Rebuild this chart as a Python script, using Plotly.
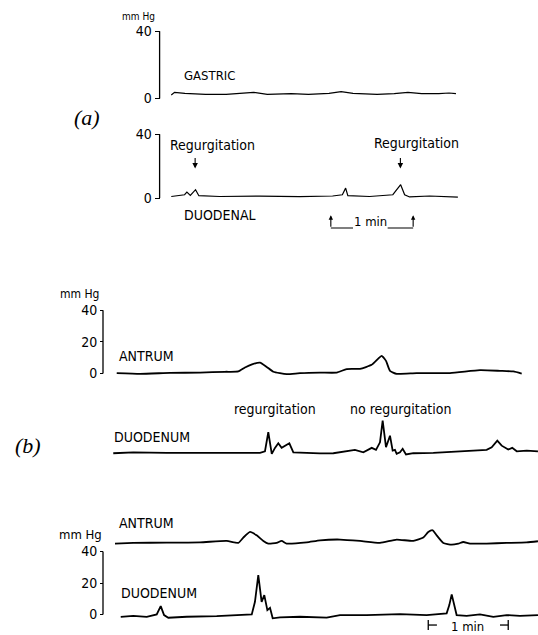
import plotly.graph_objects as go

W, H = 538, 635

# ---------------- data: time (s) and pressure (mmHg) ----------------
# Panel (a)
gastric_t = [8.5, 10.9, 18.4, 33.5, 48.5, 58.5, 68.5, 78.5, 96, 108.5, 123.5, 132.3,
             141, 158.5, 171, 181, 191, 203.5, 211, 216]
gastric_p = [2.0, 3.6, 3.0, 2.4, 2.4, 2.8, 3.6, 2.4, 2.8, 2.4, 3.0, 4.0,
             3.0, 2.4, 2.8, 3.6, 2.8, 2.8, 3.2, 2.8]

duodenal_t = [8.5, 18.2, 19.9, 22.4, 26.2, 28.6, 43.7, 72.9, 102, 126.1, 133.2, 135.6,
              137.2, 153, 170, 175.7, 178.6, 182.2, 196.8, 209, 217.4]
duodenal_p = [1.0, 2.1, 3.75, 1.7, 5.25, 1.5, 1.0, 1.2, 0.9, 1.3, 2.1, 6.25,
              1.5, 1.0, 2.1, 8.4, 2.1, 0.7, 1.3, 1.0, 0.6]

# Panel (b), upper pair
antrum1_t = [10.3, 27.8, 50.3, 72.8, 91.5, 101.5, 106.5, 111.8, 117.8, 122.8, 127.8, 137.8,
             147.8, 162.8, 175.3, 182.8, 192.8, 201.5, 206.3, 209, 212.3, 215.3, 220.3,
             235.3, 260.3, 282.8, 297.8, 307.8, 314.1]
antrum1_p = [0.25, -0.2, 0.4, 0.6, 1.1, 1.3, 3.8, 5.8, 6.9, 4.2, 1.1, -0.4,
             0.25, 0.6, 0.6, 2.8, 3.0, 5.5, 9.3, 11.2, 8.0, 1.7, -0.2,
             0.25, 0.25, 2.1, 1.7, 1.3, 0.0]

duodenum1_t = [7.7, 22.7, 47.8, 72.8, 97.7, 117.8, 121.5, 124, 126.6, 129, 131.5, 134,
               137.3, 139.8, 142.8, 152.8, 162.8, 172.8, 180.3, 189, 195.3, 201.6, 204.8,
               207.8, 209.8, 212.3, 215.3, 217.3, 219, 220.3, 222.8, 224.8, 227.3, 232.8,
               247.8, 267.8, 287.8, 291.6, 295.8, 299.1, 304, 307, 310.4, 317.9, 326.3]
duodenum1_p = [-0.1, 0.5, 0.1, 0.3, 0.1, 0.1, 1.1, 13.2, -0.5, 3.3, 6.2, 3.3,
               4.7, 6.2, 0.5, 0.1, -0.2, -0.1, 0.8, 2.0, 0.5, 3.3, 2.0,
               6.8, 20.5, 3.7, 11.0, 1.6, 2.0, -0.5, 0.5, 2.7, -0.9, -0.1,
               0.1, 1.1, 2.0, 3.7, 7.9, 4.7, 2.2, 3.3, 1.1, 1.6, 1.1]

# Panel (b), lower pair
antrum2_t = [9, 22.7, 47.8, 72.8, 92.8, 101.5, 105.3, 110.3, 115.3, 120.3, 124, 130.3,
             134, 137.8, 152.8, 162.8, 177.8, 192.8, 207.8, 220.3, 232.8, 240.3, 244,
             247.3, 250.3, 255.3, 261.6, 266.6, 270.3, 275.3, 287.8, 302.8, 317.8, 326.3]
antrum2_p = [-0.5, -0.1, 0.1, 0.3, 1.2, -0.1, 3.4, 7.0, 4.8, 1.2, -0.5, -0.1,
             1.2, -0.5, 0.3, 1.6, 2.1, 1.2, -0.1, 2.1, 1.2, 3.4, 7.0,
             8.1, 4.8, -0.1, -1.2, -0.5, 0.5, -0.5, -0.5, -0.1, 0.3, 1.0]

duodenum2_t = [13.3, 22.7, 32.8, 40.3, 43.3, 45.8, 49, 62.8, 85.3, 102.8, 111.6, 114,
               116.5, 119, 121, 123.3, 125.3, 127.3, 132.8, 147.8, 167.8, 177.8, 197.8,
               222.8, 242.8, 257.8, 259.8, 261.6, 263.4, 265.3, 272.8, 282.8, 292.8,
               302.8, 312.8, 326.3]
duodenum2_p = [-1.4, -0.8, -1.4, 0.1, 5.4, -0.3, -2.0, -1.4, -1.0, -0.3, 0.1, 8.1,
               25.0, 8.1, 12.3, 2.8, 4.3, -2.4, -1.8, -1.4, -2.0, -0.3, -0.3,
               0.3, -0.3, 0.8, 6.0, 12.8, 6.0, -0.3, -0.8, 0.1, -1.4,
               -0.3, -0.8, -0.3]

ticks_a = [0, 40]
ticks_b = [0, 20, 40]
regurg_a_t = [25.9, 175.5]          # arrow times, panel (a)
scale_a_t = [124.8, 184.8]          # 1 min bar, panel (a)
scale_b_t = [244.0, 304.0]          # 1 min bar, panel (b)

# ---------------- layout helpers ----------------
LBL = "Liberation Sans Narrow, DejaVu Sans Condensed, Arial Narrow, Liberation Sans, sans-serif"
SERIF = "Liberation Serif, DejaVu Serif, serif"


def px(x):
    return x / W


def py(y):
    return 1 - y / H


def yaxis_cfg(zero, scale, top, bottom, tickvals=None, pos=None, ticklen=4, size=15):
    lo = -(bottom - zero) / scale
    hi = (zero - top) / scale
    cfg = dict(domain=[py(bottom), py(top)], range=[lo, hi], showgrid=False,
               zeroline=False, fixedrange=True)
    if tickvals is None:
        cfg.update(visible=False)
    else:
        cfg.update(anchor="free", position=px(pos), side="left", showline=False,
                   ticks="outside", ticklen=ticklen, tickwidth=1.3, tickcolor="black",
                   tickvals=tickvals, ticktext=[str(v) for v in tickvals],
                   tickfont=dict(family=LBL, size=size, color="black"))
    return cfg


AX_A = 159.6
AX_B = 103.0
T_A = 1.372   # px per second panel a
T_B = 1.333   # px per second panel b

fig = go.Figure()
line_a = dict(color="black", width=1.2)
line_b = dict(color="black", width=1.8)

fig.add_trace(go.Scatter(x=gastric_t, y=gastric_p, mode="lines", line=line_a, xaxis="x", yaxis="y"))
fig.add_trace(go.Scatter(x=duodenal_t, y=duodenal_p, mode="lines", line=line_a, xaxis="x", yaxis="y2"))
fig.add_trace(go.Scatter(x=antrum1_t, y=antrum1_p, mode="lines", line=dict(line_b, shape="spline", smoothing=0.5), xaxis="x2", yaxis="y3"))
fig.add_trace(go.Scatter(x=duodenum1_t, y=duodenum1_p, mode="lines", line=line_b, xaxis="x2", yaxis="y4"))
fig.add_trace(go.Scatter(x=antrum2_t, y=antrum2_p, mode="lines", line=dict(line_b, shape="spline", smoothing=0.5), xaxis="x2", yaxis="y5"))
fig.add_trace(go.Scatter(x=duodenum2_t, y=duodenum2_p, mode="lines", line=line_b, xaxis="x2", yaxis="y6"))

xa = dict(domain=[px(AX_A), px(AX_A + 226 * T_A)], range=[0, 226], visible=False, fixedrange=True)
xb = dict(domain=[px(AX_B), 1.0], range=[0, (W - AX_B) / T_B], visible=False, fixedrange=True)

fig.update_layout(
    width=W, height=H, margin=dict(l=0, r=0, t=0, b=0),
    paper_bgcolor="white", plot_bgcolor="rgba(0,0,0,0)", showlegend=False,
    xaxis=dict(xa, anchor="y"),
    xaxis2=dict(xb, anchor="y3"),
    yaxis=yaxis_cfg(96.7, 1.685, 20, 106, ticks_a, AX_A, 5, 14),
    yaxis2=dict(yaxis_cfg(196.7, 1.6, 125, 205, ticks_a, AX_A, 5, 14)),
    yaxis3=yaxis_cfg(372.7, 1.585, 300, 382, ticks_b, AX_B, 3, 14),
    yaxis4=yaxis_cfg(452.5, 1.585, 412, 462),
    yaxis5=yaxis_cfg(542.5, 1.55, 520, 550),
    yaxis6=yaxis_cfg(614.5, 1.58, 545, 624, ticks_b, AX_B, 3, 14),
)

shapes = []
# bracket lines
for yref in ["y", "y2"]:
    shapes.append(dict(type="line", xref="paper", yref=yref, x0=px(AX_A), x1=px(AX_A),
                       y0=ticks_a[0], y1=ticks_a[-1], line=dict(color="black", width=1.3)))
for yref in ["y3", "y6"]:
    shapes.append(dict(type="line", xref="paper", yref=yref, x0=px(AX_B), x1=px(AX_B),
                       y0=ticks_b[0], y1=ticks_b[-1], line=dict(color="black", width=1.3)))

# 1 min bar (a)
ya_bar = py(226.7)
shapes.append(dict(type="line", xref="x", yref="paper", x0=scale_a_t[0], x1=scale_a_t[0] + 16.2,
                   y0=ya_bar, y1=ya_bar, line=dict(color="black", width=1.1)))
shapes.append(dict(type="line", xref="x", yref="paper", x0=scale_a_t[1] - 18.6, x1=scale_a_t[1],
                   y0=ya_bar, y1=ya_bar, line=dict(color="black", width=1.1)))
# 1 min bar (b)
yb_bar = py(625)
shapes.append(dict(type="line", xref="x2", yref="paper", x0=scale_b_t[0], x1=scale_b_t[0] + 6.5,
                   y0=yb_bar, y1=yb_bar, line=dict(color="black", width=1.3)))
shapes.append(dict(type="line", xref="x2", yref="paper", x0=scale_b_t[1] - 6.2, x1=scale_b_t[1],
                   y0=yb_bar, y1=yb_bar, line=dict(color="black", width=1.3)))
for t in scale_b_t:
    shapes.append(dict(type="line", xref="x2", yref="paper", x0=t, x1=t,
                       y0=py(620), y1=py(630), line=dict(color="black", width=1.3)))
fig.update_layout(shapes=shapes)


def label(x, y, text, size=14, family=LBL):
    fig.add_annotation(x=px(x), y=py(y), xref="paper", yref="paper", text=text,
                       showarrow=False, xanchor="center", yanchor="middle",
                       font=dict(family=family, size=size, color="black"))


label(138, 15, "mm Hg", 10)
label(209.5, 73.3, "GASTRIC", 13)
label(86.5, 116, "<i>(a)</i>", 22, SERIF)
label(212, 143.3, "Regurgitation", 14)
label(416, 141.7, "Regurgitation", 14)
label(219.5, 213.3, "DUODENAL", 14)
label(370.7, 220, "1 min", 13)

label(79, 293, "mm Hg", 12)
label(146, 355, "ANTRUM", 14)
label(275.4, 408.3, "regurgitation", 14)
label(400.6, 408.3, "no regurgitation", 14)
label(151.5, 436.7, "DUODENUM", 14)
label(27.5, 445, "<i>(b)</i>", 22, SERIF)
label(146, 522.7, "ANTRUM", 14)
label(80, 534, "mm Hg", 13)
label(158.7, 592.7, "DUODENUM", 14)
label(467, 626, "1 min", 13)

# arrows
for t in regurg_a_t:
    fig.add_annotation(x=t, y=py(167), xref="x", yref="paper", text="", showarrow=True,
                       ax=0, ay=-12, arrowhead=2, arrowsize=1, arrowwidth=1.1, arrowcolor="black")
for t in scale_a_t:
    fig.add_annotation(x=t, y=py(214), xref="x", yref="paper", text="", showarrow=True,
                       ax=0, ay=13, arrowhead=2, arrowsize=0.8, arrowwidth=1.1, arrowcolor="black")

fig.write_html("out.html")
